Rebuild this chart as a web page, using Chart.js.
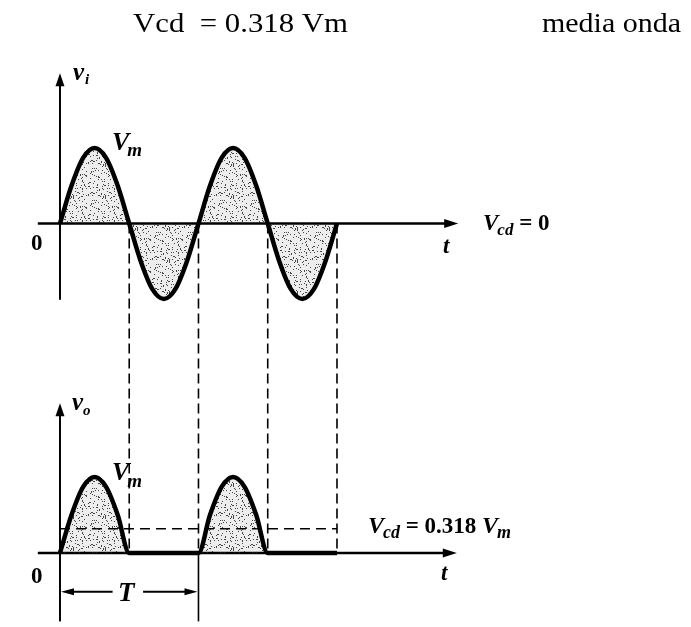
<!DOCTYPE html>
<html>
<head>
<meta charset="utf-8">
<title>Rectificador de media onda</title>
<script src="https://cdn.jsdelivr.net/npm/chart.js@4/dist/chart.umd.min.js"></script>
<style>
  body { margin: 0; background: #fff; }
  canvas { display: block; }
</style>
</head>
<body>
<canvas id="grafico" width="691" height="627"></canvas>
<script>
// Muestras de dos periodos (t en unidades de T, tensiones en unidades de Vm)
var tiempo = [0, 0.083, 0.167, 0.25, 0.333, 0.417, 0.5, 0.583, 0.667, 0.75, 0.833, 0.917,
              1, 1.083, 1.167, 1.25, 1.333, 1.417, 1.5, 1.583, 1.667, 1.75, 1.833, 1.917, 2];
var entrada = [0, 0.5, 0.87, 1, 0.87, 0.5, 0, -0.5, -0.87, -1, -0.87, -0.5,
               0, 0.5, 0.87, 1, 0.87, 0.5, 0, -0.5, -0.87, -1, -0.87, -0.5, 0];
var salida = [0, 0.5, 0.87, 1, 0.87, 0.5, 0, 0, 0, 0, 0, 0,
              0, 0.5, 0.87, 1, 0.87, 0.5, 0, 0, 0, 0, 0, 0, 0];
var nivelCD = 0.318;           // Vcd = 0.318 Vm
var tramoCD = [0, 2];          // tramo de la linea de continua
var cortes = [0.5, 1, 1.5, 2]; // guias verticales entre las dos graficas

// Trama punteada para el area bajo la curva
function crearTrama() {
    var c = document.createElement('canvas');
    c.width = 32; c.height = 32;
    var g = c.getContext('2d');
    g.fillStyle = 'rgba(0,0,0,0.07)';
    g.fillRect(0, 0, 32, 32);
    g.fillStyle = 'rgba(40,40,40,0.85)';
    for (var y = 0; y < 32; y++) {
        for (var x = 0; x < 32; x++) {
            var h = ((x * 73856093) ^ (y * 19349663) ^ (x * y * 83492791)) >>> 0;
            if (h % 100 < 12) g.fillRect(x, y, 1, 1);
        }
    }
    return g.createPattern(c, 'repeat');
}

var ctx = document.getElementById('grafico').getContext('2d');
var trama = crearTrama();

function puntos(xs, ys) {
    return xs.map(function (t, i) { return { x: t, y: ys[i] }; });
}

function flecha(c, x1, y1, x2, y2, largo, ancho) {
    var ang = Math.atan2(y2 - y1, x2 - x1);
    c.beginPath();
    c.moveTo(x1, y1);
    c.lineTo(x2 - Math.cos(ang) * largo * 0.6, y2 - Math.sin(ang) * largo * 0.6);
    c.stroke();
    c.beginPath();
    c.moveTo(x2, y2);
    c.lineTo(x2 - Math.cos(ang) * largo - Math.sin(ang) * ancho, y2 - Math.sin(ang) * largo + Math.cos(ang) * ancho);
    c.lineTo(x2 - Math.cos(ang) * largo + Math.sin(ang) * ancho, y2 - Math.sin(ang) * largo - Math.cos(ang) * ancho);
    c.closePath();
    c.fill();
}

// Escribe un texto por partes (dy respecto a la linea base, para subindices)
function texto(c, partes, x, y) {
    partes.forEach(function (p) {
        c.font = p.f;
        c.fillText(p.t, x + (p.dx || 0), y + (p.dy || 0));
        x += c.measureText(p.t).width + (p.dx || 0);
    });
}

var serif = '"Liberation Serif", "DejaVu Serif", serif';
var itB = function (s) { return 'italic bold ' + s + 'px ' + serif; };
var rgB = function (s) { return 'bold ' + s + 'px ' + serif; };

var esquema = {
    id: 'esquema',
    beforeDatasetsDraw: function (chart) {
        var c = chart.ctx, sx = chart.scales.x, st = chart.scales.yTop, sb = chart.scales.yBot;
        var x0 = sx.getPixelForValue(0);
        c.save();
        c.strokeStyle = '#000';
        c.fillStyle = '#000';
        c.lineCap = 'butt';

        // ejes de vi
        c.lineWidth = 2.5;
        flecha(c, sx.getPixelForValue(-0.16), st.getPixelForValue(0), sx.getPixelForValue(2.875), st.getPixelForValue(0), 14, 4.5);
        c.lineWidth = 2;
        flecha(c, x0, st.getPixelForValue(-1.01), x0, st.getPixelForValue(1.99), 13, 4.5);

        // ejes de vo
        c.lineWidth = 2.5;
        flecha(c, sx.getPixelForValue(-0.16), sb.getPixelForValue(0), sx.getPixelForValue(2.865), sb.getPixelForValue(0), 14, 4.5);
        c.lineWidth = 2;
        flecha(c, x0, sb.getPixelForValue(-0.9), x0, sb.getPixelForValue(1.97), 13, 4.5);

        // prolongacion en t = T para marcar el periodo
        var xT = sx.getPixelForValue(1);
        c.lineWidth = 1.6;
        c.beginPath();
        c.moveTo(xT, sb.getPixelForValue(0));
        c.lineTo(xT, sb.getPixelForValue(-0.9));
        c.stroke();

        // cota del periodo T
        var yT = sb.getPixelForValue(-0.51);
        c.lineWidth = 2;
        flecha(c, sx.getPixelForValue(0.38), yT, x0 + 1, yT, 13, 3.5);
        flecha(c, sx.getPixelForValue(0.6), yT, xT - 1, yT, 13, 3.5);

        // guias verticales discontinuas
        c.lineWidth = 1.6;
        c.setLineDash([10, 5]);
        cortes.forEach(function (t) {
            var px = sx.getPixelForValue(t);
            c.beginPath();
            c.moveTo(px, st.getPixelForValue(0));
            c.lineTo(px, sb.getPixelForValue(0));
            c.stroke();
        });
        c.restore();
    },
    afterDraw: function (chart) {
        var c = chart.ctx;
        c.save();
        c.fillStyle = '#000';
        c.textBaseline = 'alphabetic';

        // encabezado
        c.save();
        c.translate(133, 32);
        c.scale(1.1, 1);
        c.font = '28px ' + serif;
        c.fillText('Vcd  = 0.318 Vm', 0, 0);
        c.restore();
        c.save();
        c.translate(542, 32);
        c.scale(1.07, 1);
        c.font = '28px ' + serif;
        c.fillText('media onda', 0, 0);
        c.restore();

        // grafica de entrada
        texto(c, [{ t: 'v', f: itB(25) }, { t: 'i', f: itB(15), dy: 4, dx: 1 }], 73, 80);
        texto(c, [{ t: 'V', f: itB(26) }, { t: 'm', f: itB(19), dy: 6, dx: -2 }], 112, 150);
        texto(c, [{ t: '0', f: rgB(23) }], 31, 250);
        texto(c, [{ t: 't', f: itB(23) }], 443, 253);
        texto(c, [{ t: 'V', f: itB(23) }, { t: 'cd', f: itB(17), dy: 5, dx: -1 }, { t: ' = 0', f: rgB(23) }], 483, 230);

        // grafica de salida
        texto(c, [{ t: 'v', f: itB(25) }, { t: 'o', f: itB(15), dy: 5 }], 72, 410);
        texto(c, [{ t: 'V', f: itB(26) }, { t: 'm', f: itB(19), dy: 7, dx: -2 }], 112, 480);
        texto(c, [{ t: '0', f: rgB(23) }], 31, 583);
        texto(c, [{ t: 't', f: itB(23) }], 441, 580);
        texto(c, [{ t: 'T', f: itB(27) }], 118, 601);
        texto(c, [{ t: 'V', f: itB(24) }, { t: 'cd', f: itB(18), dy: 5, dx: -1 },
                  { t: ' = 0.318 ', f: rgB(23) }, { t: 'V', f: itB(24) },
                  { t: 'm', f: itB(18), dy: 5, dx: -1 }], 368, 533);
        c.restore();
    }
};

new Chart(ctx, {
    type: 'line',
    data: {
        datasets: [
            {
                label: 'vi',
                data: puntos(tiempo, entrada),
                yAxisID: 'yTop',
                borderColor: '#000',
                borderWidth: 4.5,
                backgroundColor: trama,
                fill: 'origin',
                cubicInterpolationMode: 'monotone',
                pointRadius: 0
            },
            {
                label: 'vo',
                data: puntos(tiempo, salida),
                yAxisID: 'yBot',
                borderColor: '#000',
                borderWidth: 4.5,
                backgroundColor: trama,
                fill: 'origin',
                cubicInterpolationMode: 'monotone',
                pointRadius: 0
            },
            {
                label: 'Vcd',
                data: puntos(tramoCD, [nivelCD, nivelCD]),
                yAxisID: 'yBot',
                borderColor: '#000',
                borderWidth: 1.6,
                borderDash: [10, 6],
                fill: false,
                pointRadius: 0
            }
        ]
    },
    options: {
        responsive: false,
        animation: false,
        events: [],
        layout: { padding: 0 },
        plugins: {
            legend: { display: false },
            tooltip: { enabled: false }
        },
        scales: {
            x: { type: 'linear', display: false, min: -0.433, max: 4.556 },
            yTop: { type: 'linear', axis: 'y', position: 'left', display: false, min: -5.344, max: 2.960 },
            yBot: { type: 'linear', axis: 'y', position: 'left', display: false, min: -0.974, max: 7.276 }
        }
    },
    plugins: [esquema]
});
</script>
</body>
</html>
